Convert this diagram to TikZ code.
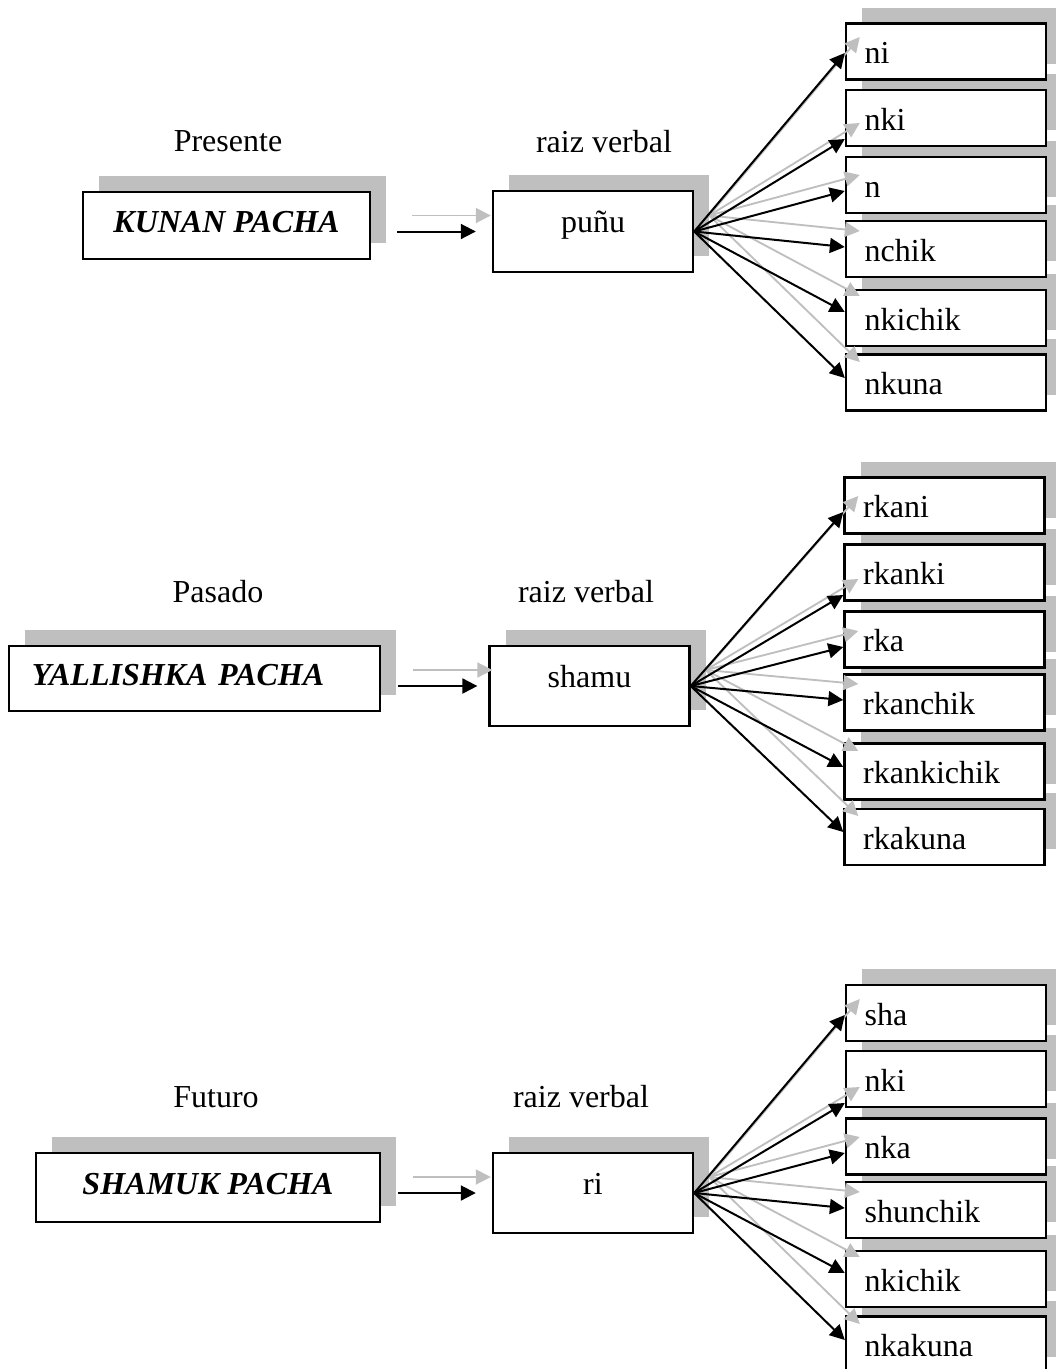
\documentclass[tikz,12pt,border=0pt]{standalone}
\usepackage{fontspec}
\setmainfont{Liberation Serif}
\usetikzlibrary{arrows.meta,calc,shadows}

\newcommand{\shadowdx}{15}
\newcommand{\shadowdy}{-16}

\tikzset{
  boxshadow/.style={drop shadow={shadow xshift=6pt, shadow yshift=6pt, fill=black!25, opacity=1}},
  tensebox/.style={draw, line width=0.9pt, fill=white, boxshadow, font=\bfseries\itshape,
    text height=8pt, text depth=3pt},
  rootbox/.style={draw, line width=0.9pt, fill=white, boxshadow, minimum width=75pt,
    minimum height=30.2pt, text height=8pt, text depth=7pt},
  suffixbox/.style={draw, line width=0.9pt, fill=white, boxshadow, minimum height=21pt,
    text width=61pt, inner xsep=7pt, align=left, text height=9pt, text depth=0pt},
  blackarrow/.style={line width=0.75pt, -{Triangle[length=5.6pt,width=5.6pt]}},
  grayarrow/.style={line width=0.7pt, black!25, -{Triangle[length=5.6pt,width=5.6pt]}},
}

\begin{document}
\begin{tikzpicture}[x=0.375pt, y=-0.375pt]
\useasboundingbox (0,0) rectangle (1055,1369);

%% ---------- Presente ----------
%% Place the tense label and the tense box
\node (tenselabel1) at (228,141) {Presente};
\node[tensebox, minimum width=107.6pt, minimum height=25.1pt] (tense1) at (226.5,225.5) {KUNAN PACHA};
%% Place the verb root and its label
\node (rootlabel1) at (604,142) {raiz verbal};
\node[rootbox] (root1) at (593,231.5) {puñu};
%% Place the suffixes from the bottom up, so each box hides the shadow of the box below
\node[suffixbox] (suf16) at (946,382.5) {nkuna};
\node[suffixbox] (suf15) at (946,318) {nkichik};
\node[suffixbox] (suf14) at (946,249) {nchik};
\node[suffixbox] (suf13) at (946,185) {n};
\node[suffixbox] (suf12) at (946,118) {nki};
\node[suffixbox] (suf11) at (946,51.5) {ni};

%% Arrow from tense box to root, shadow arrow first
\draw[grayarrow, shorten <=9.75pt, shorten >=6pt] ($(tense1.east |- root1.west)+(\shadowdx,\shadowdy)$) -- ($(root1.west)+(\shadowdx,\shadowdy)$);
\draw[blackarrow, shorten <=9.75pt, shorten >=6pt] (tense1.east |- root1.west) -- (root1.west);
%% Arrows from root to every suffix
\foreach \i/\dy in {1/1.5, 2/21, 3/6, 4/-2, 5/-6, 6/-4.5}
  \draw[grayarrow] ($(root1.east)+(\shadowdx,\shadowdy)$) -- ($(suf1\i.west)+(0,\dy)+(\shadowdx,\shadowdy)$);
\foreach \i/\dy in {1/1.5, 2/21, 3/6, 4/-2, 5/-6, 6/-4.5}
  \draw[blackarrow] (root1.east) -- ($(suf1\i.west)+(0,\dy)$);

%% ---------- Pasado ----------
\node (tenselabel2) at (218,592) {Pasado};
\node[tensebox, text width=121.9pt, inner xsep=8.6pt, align=left, minimum height=24.4pt] (tense2) at (194.5,678.5) {YALLISHKA PACHA};
\node (rootlabel2) at (586,592) {raiz verbal};
\node[rootbox] (root2) at (589.5,686) {shamu};
\node[suffixbox] (suf26) at (944.5,837) {rkakuna};
\node[suffixbox] (suf25) at (944.5,771.5) {rkankichik};
\node[suffixbox] (suf24) at (944.5,702.5) {rkanchik};
\node[suffixbox] (suf23) at (944.5,639.5) {rka};
\node[suffixbox] (suf22) at (944.5,572.5) {rkanki};
\node[suffixbox] (suf21) at (944.5,505.5) {rkani};

\draw[grayarrow, shorten <=6.4pt, shorten >=4.1pt] ($(tense2.east |- root2.west)+(\shadowdx,\shadowdy)$) -- ($(root2.west)+(\shadowdx,\shadowdy)$);
\draw[blackarrow, shorten <=6.4pt, shorten >=4.1pt] (tense2.east |- root2.west) -- (root2.west);
\foreach \i/\dy in {1/6.5, 2/22.5, 3/7.5, 4/-2.5, 5/-4.5, 6/-5}
  \draw[grayarrow] ($(root2.east)+(\shadowdx,\shadowdy)$) -- ($(suf2\i.west)+(0,\dy)+(\shadowdx,\shadowdy)$);
\foreach \i/\dy in {1/6.5, 2/22.5, 3/7.5, 4/-2.5, 5/-4.5, 6/-5}
  \draw[blackarrow] (root2.east) -- ($(suf2\i.west)+(0,\dy)$);

%% ---------- Futuro ----------
\node (tenselabel3) at (216,1097) {Futuro};
\node[tensebox, minimum width=129pt, minimum height=25.9pt] (tense3) at (208,1187.5) {SHAMUK PACHA};
\node (rootlabel3) at (581,1097) {raiz verbal};
\node[rootbox] (root3) at (593,1193) {ri};
\node[suffixbox] (suf36) at (946,1344.5) {nkakuna};
\node[suffixbox] (suf35) at (946,1279) {nkichik};
\node[suffixbox] (suf34) at (946,1210) {shunchik};
\node[suffixbox] (suf33) at (946,1146.5) {nka};
\node[suffixbox] (suf32) at (946,1079) {nki};
\node[suffixbox] (suf31) at (946,1013) {sha};

\draw[grayarrow, shorten <=6.4pt, shorten >=6pt] ($(tense3.east |- root3.west)+(\shadowdx,\shadowdy)$) -- ($(root3.west)+(\shadowdx,\shadowdy)$);
\draw[blackarrow, shorten <=6.4pt, shorten >=6pt] (tense3.east |- root3.west) -- (root3.west);
\foreach \i/\dy in {1/2, 2/24, 3/6.5, 4/-2, 5/-6, 6/-4.5}
  \draw[grayarrow] ($(root3.east)+(\shadowdx,\shadowdy)$) -- ($(suf3\i.west)+(0,\dy)+(\shadowdx,\shadowdy)$);
\foreach \i/\dy in {1/2, 2/24, 3/6.5, 4/-2, 5/-6, 6/-4.5}
  \draw[blackarrow] (root3.east) -- ($(suf3\i.west)+(0,\dy)$);

\end{tikzpicture}
\end{document}
